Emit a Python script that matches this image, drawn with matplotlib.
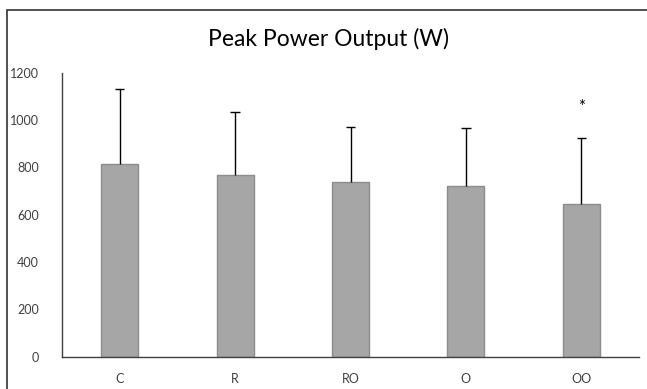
import matplotlib.pyplot as plt
from matplotlib.patches import Rectangle

plt.rcParams["font.family"] = ["Lato", "DejaVu Sans"]

# Data
groups = ["C", "R", "RO", "O", "OO"]
means = [813, 767, 739, 720, 645]
sds = [319, 269, 234, 248, 279]
# significance marker (group index, y position)
sig_group = 4
sig_y = 1057

bar_color = "#a6a6a6"
edge_color = "#8c8c8c"
text_color = "#404040"

fig = plt.figure(figsize=(6.47, 3.89), dpi=100)
ax = fig.add_axes([62 / 647, (389 - 356.5) / 389, (639 - 62) / 647, (356.5 - 73) / 389])

x = list(range(len(groups)))
tops = [m + s for m, s in zip(means, sds)]
ax.bar(x, means, width=0.32, color=bar_color, edgecolor=edge_color, linewidth=1.0, zorder=2)
# upper-only error bars
ax.vlines(x, means, tops, color="black", linewidth=1.0, zorder=3)
ax.hlines(tops, [i - 0.04 for i in x], [i + 0.04 for i in x], color="black",
          linewidth=1.0, zorder=3)
ax.text(sig_group, sig_y, "*", ha="center", va="center", fontsize=12, color="black")

ax.set_xlim(-0.5, len(groups) - 0.5)
ax.set_ylim(0, 1200)
ax.set_yticks(range(0, 1201, 200))
ax.set_xticks(x)
ax.set_xticklabels(groups)
ax.tick_params(axis="both", length=0, labelsize=9, colors=text_color)
ax.tick_params(axis="y", pad=16.5)
ax.tick_params(axis="x", pad=12)

for side in ["top", "right"]:
    ax.spines[side].set_visible(False)
for side in ["left", "bottom"]:
    ax.spines[side].set_color("#404040")
    ax.spines[side].set_linewidth(1.0)

fig.text(328 / 647, 1 - 39 / 389, "Peak Power Output (W)", ha="center", va="center",
         fontsize=16.5, color="black")

# outer chart border (cropped at right/bottom)
fig.patches.append(Rectangle((6.5 / 647, -0.1), 1.2, 1 - 9.5 / 389 + 0.1,
                             transform=fig.transFigure, fill=False,
                             edgecolor="#333333", linewidth=1.2))

fig.savefig("out.png", dpi=100, facecolor="white")
